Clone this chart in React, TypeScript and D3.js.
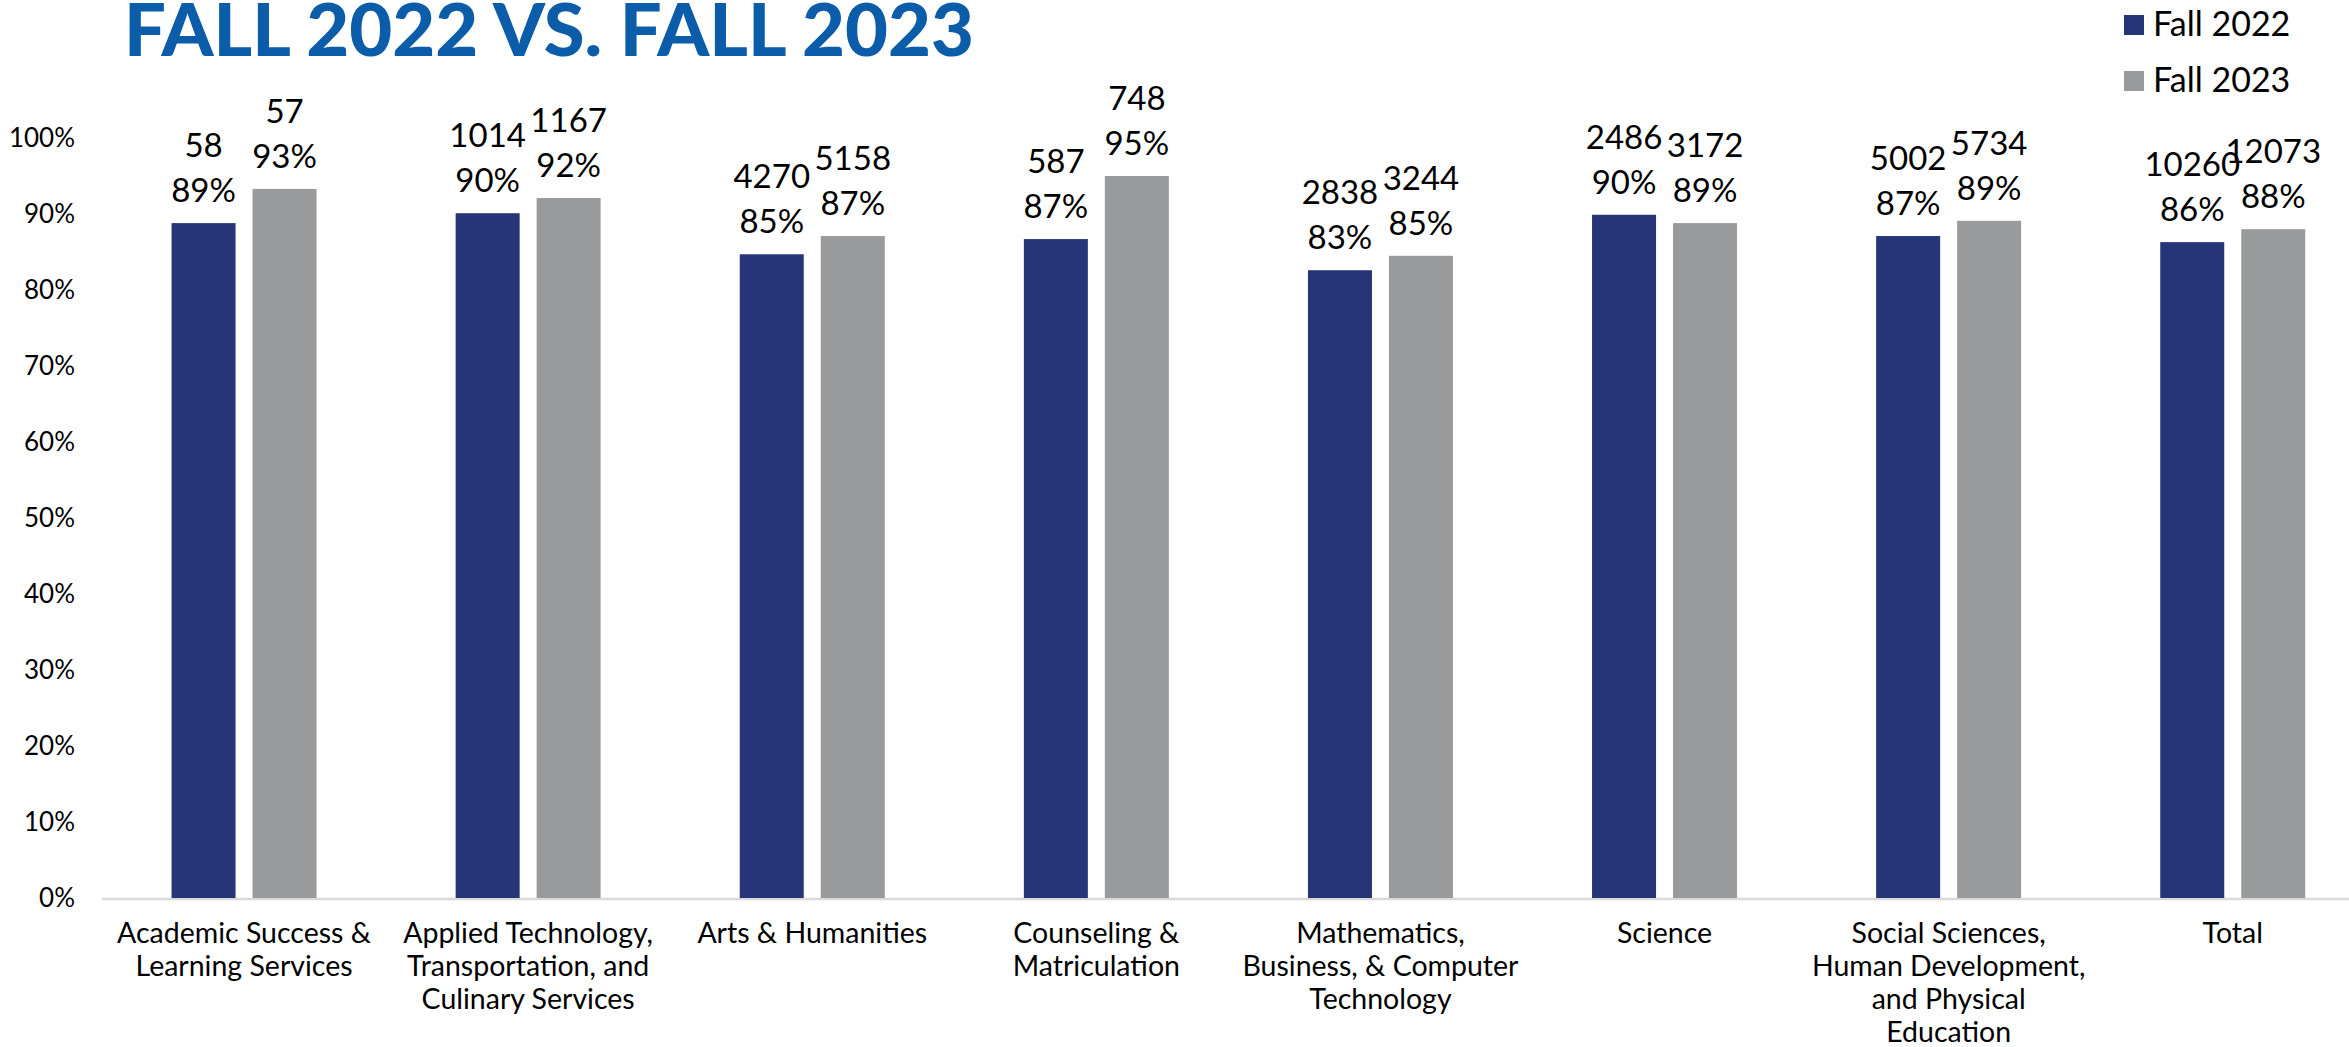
import React, { useEffect, useRef } from "react";
import * as d3 from "d3";

const categories: string[][] = [
  ["Academic Success &", "Learning Services"],
  ["Applied Technology,", "Transportation, and", "Culinary Services"],
  ["Arts & Humanities"],
  ["Counseling &", "Matriculation"],
  ["Mathematics,", "Business, & Computer", "Technology"],
  ["Science"],
  ["Social Sciences,", "Human Development,", "and Physical", "Education"],
  ["Total"],
];
const seriesNames = ["Fall 2022", "Fall 2023"];
const fall2022Pct = [88.8, 90.1, 84.7, 86.7, 82.6, 89.9, 87.1, 86.3];
const fall2023Pct = [93.3, 92.1, 87.1, 95.0, 84.5, 88.8, 89.1, 88.0];
const fall2022Count = [58, 1014, 4270, 587, 2838, 2486, 5002, 10260];
const fall2023Count = [57, 1167, 5158, 748, 3244, 3172, 5734, 12073];
const yTicks = [0, 10, 20, 30, 40, 50, 60, 70, 80, 90, 100];
const colors = ["#263478", "#999A9C"];

const W = 2349;
const H = 1047;
const FONT = "Lato, 'Open Sans', sans-serif";

export default function App() {
  const ref = useRef<SVGSVGElement>(null);

  useEffect(() => {
    document.body.style.margin = "0";
    const svg = d3.select(ref.current);
    svg.selectAll("*").remove();

    const keys = categories.map((c) => c.join(" "));
    const x = d3.scaleBand<string>().domain(keys).range([102, 102 + 8 * 284.1]);
    const y = d3.scaleLinear().domain([0, 100]).range([898, 138]);
    const barW = 64;
    const gap = 17;

    // title
    svg
      .append("text")
      .attr("x", 124)
      .attr("y", 56)
      .attr("font-family", FONT)
      .attr("font-weight", 900)
      .attr("font-size", 72)
      .attr("fill", "#0B5DAA")
      .attr("textLength", 850)
      .attr("lengthAdjust", "spacingAndGlyphs")
      .text("FALL 2022 VS. FALL 2023");

    // y tick labels
    svg
      .append("g")
      .selectAll("text")
      .data(yTicks)
      .join("text")
      .attr("x", 75)
      .attr("y", (d) => y(d))
      .attr("dy", "0.35em")
      .attr("text-anchor", "end")
      .attr("font-family", FONT)
      .attr("font-size", 26)
      .attr("fill", "#000")
      .text((d) => `${d}%`);

    // axis line
    svg
      .append("line")
      .attr("x1", 102)
      .attr("x2", W)
      .attr("y1", y(0) + 1)
      .attr("y2", y(0) + 1)
      .attr("stroke", "#D9D9D9")
      .attr("stroke-width", 2.5);

    const series = [
      { pct: fall2022Pct, cnt: fall2022Count, off: -gap / 2 - barW },
      { pct: fall2023Pct, cnt: fall2023Count, off: gap / 2 },
    ];

    series.forEach((s, si) => {
      const g = svg.append("g");
      keys.forEach((k, i) => {
        const cx = (x(k) as number) + x.bandwidth() / 2;
        const bx = cx + s.off;
        const top = y(s.pct[i]);
        g.append("rect")
          .attr("x", bx)
          .attr("y", top)
          .attr("width", barW)
          .attr("height", y(0) - top)
          .attr("fill", colors[si]);
        const lx = bx + barW / 2;
        g.append("text")
          .attr("x", lx)
          .attr("y", top - 21)
          .attr("text-anchor", "middle")
          .attr("font-family", FONT)
          .attr("font-size", 33)
          .attr("fill", "#000")
          .text(`${Math.round(s.pct[i])}%`);
        g.append("text")
          .attr("x", lx)
          .attr("y", top - 66)
          .attr("text-anchor", "middle")
          .attr("font-family", FONT)
          .attr("font-size", 33)
          .attr("fill", "#000")
          .text(`${s.cnt[i]}`);
      });
    });

    // category labels
    const cg = svg.append("g");
    categories.forEach((lines, i) => {
      const cx = (x(keys[i]) as number) + x.bandwidth() / 2;
      const t = cg
        .append("text")
        .attr("text-anchor", "middle")
        .attr("font-family", FONT)
        .attr("font-size", 28.5)
        .attr("fill", "#000");
      lines.forEach((ln, j) => {
        t.append("tspan").attr("x", cx).attr("y", 943 + j * 33).text(ln);
      });
    });

    // legend
    seriesNames.forEach((n, i) => {
      svg
        .append("rect")
        .attr("x", 2124)
        .attr("y", 15 + i * 56)
        .attr("width", 20)
        .attr("height", 20)
        .attr("fill", colors[i]);
      svg
        .append("text")
        .attr("x", 2153)
        .attr("y", 36 + i * 56)
        .attr("font-family", FONT)
        .attr("font-size", 34)
        .attr("fill", "#000")
        .text(n);
    });
  }, []);

  return (
    <svg
      ref={ref}
      width={W}
      height={H}
      style={{ display: "block", background: "#fff" }}
    />
  );
}
